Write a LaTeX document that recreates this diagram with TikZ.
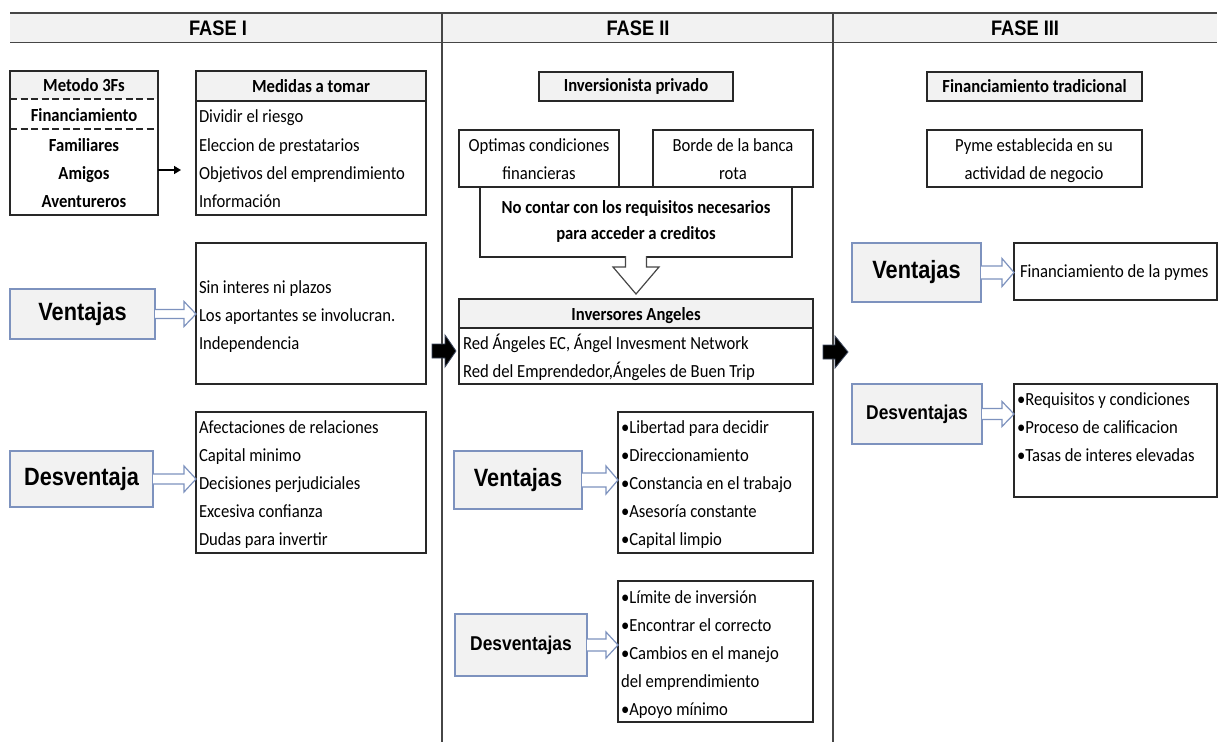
\documentclass[tikz,border=0pt]{standalone}
\usepackage{fontspec}
\setmainfont{Carlito}[FakeStretch=0.9]
\newfontfamily\arialf{Liberation Sans}[FakeStretch=0.87]
\usetikzlibrary{arrows.meta,calc}
\definecolor{lgrey}{RGB}{242,242,242}
\definecolor{lblue}{RGB}{125,146,190}
\definecolor{dline}{RGB}{40,40,40}
\definecolor{divc}{RGB}{70,70,70}
\tikzset{
  box/.style={draw=dline, line width=1.2pt, fill=white, inner sep=0pt, outer sep=0pt, anchor=north west},
  obox/.style={box, fill=none},
  hbox/.style={box, fill=lgrey, font=\bfseries\fontsize{18.5}{28}\selectfont},
  lbl/.style={draw=lblue, line width=1.4pt, fill=lgrey, inner sep=0pt, outer sep=0pt, anchor=north west, font=\arialf\bfseries\fontsize{25}{30}\selectfont},
  lbls/.style={lbl, font=\arialf\bfseries\fontsize{20}{24}\selectfont},
  txt/.style={inner sep=0pt, outer sep=0pt, font=\fontsize{18.5}{28}\selectfont, anchor=base west},
  ctxt/.style={txt, anchor=base},
  btxt/.style={txt, font=\bfseries\fontsize{18.5}{28}\selectfont, anchor=base},
  phase/.style={font=\arialf\bfseries\fontsize{21}{25}\selectfont, inner sep=0pt},
  harrow/.style={draw=lblue, line width=1.2pt, fill=white, line join=miter},
  sep/.style={draw=dline, line width=1.2pt},
  dsep/.style={draw=dline, line width=1.6pt, dash pattern=on 7pt off 3.5pt},
  divline/.style={draw=divc, line width=1.5pt},
  blk/.style={fill=black, draw=lblue!50!black, line width=0.8pt, line join=miter},
}
\newcommand\harr[4]{%
  \draw[harrow] let \p1=(#1.east), \p2=(#2.west) in
    (\x1,\y1+#3pt) -- (\x2-12pt,\y1+#3pt) -- (\x2-12pt,\y1+#4pt) -- (\x2,\y1)
    -- (\x2-12pt,\y1-#4pt) -- (\x2-12pt,\y1-#3pt) -- (\x1,\y1-#3pt);
}
\begin{document}
\begin{tikzpicture}[x=1pt,y=-1pt]
\useasboundingbox (0,0) rectangle (1225,742);
% phase header band
\fill[lgrey] (10,13) rectangle (1217,42);
\draw[divline] (10,13) -- (1217,13);
\draw[divline] (10,42.5) -- (1217,42.5);
\draw[divline] (442,13) -- (442,742);
\draw[divline] (833,13) -- (833,742);
\node[phase] (ph1) at (218,28) {FASE I};
\node[phase] (ph2) at (638,28) {FASE II};
\node[phase] (ph3) at (1025,28) {FASE III};

% ---------------- FASE I ----------------
\fill[lgrey] (10,71) rectangle (158,99);
\node[obox, minimum width=148pt, minimum height=144pt] (m3f) at (10,71) {};
\draw[dsep] (m3f.west |- 0,99) -- (m3f.east |- 0,99);
\draw[dsep] (m3f.west |- 0,129) -- (m3f.east |- 0,129);
\node[btxt] (a1) at (84,91) {Metodo 3Fs};
\node[btxt] (a2) at (84,121) {Financiamiento};
\node[btxt] (a3) at (84,151) {Familiares};
\node[btxt] (a4) at (84,179) {Amigos};
\node[btxt] (a5) at (84,207) {Aventureros};

\fill[lgrey] (196,71) rectangle (426,101);
\node[obox, minimum width=230pt, minimum height=144pt] (med) at (196,71) {};
\draw[sep] (med.west |- 0,101) -- (med.east |- 0,101);
\node[btxt] (b0) at (311,92) {Medidas a tomar};
\node[txt] (b1) at (199,122) {Dividir el riesgo};
\node[txt] (b2) at (199,151) {Eleccion de prestatarios};
\node[txt] (b3) at (199,179) {Objetivos del emprendimiento};
\node[txt] (b4) at (199,207) {Información};
\draw[line width=1.6pt, -{Triangle[length=7pt,width=8pt]}] ([yshift=-27pt]m3f.east) -- ([yshift=-27pt,xshift=-15pt]med.west);

\node[box, minimum width=230pt, minimum height=141pt] (v1c) at (196,243) {};
\node[txt] (c1) at (199,293) {Sin interes ni plazos};
\node[txt] (c2) at (199,321) {Los aportantes se involucran.};
\node[txt] (c3) at (199,349) {Independencia};
\node[lbl, minimum width=145pt, minimum height=50pt] (v1) at (10,289) {Ventajas};
\harr{v1}{v1c}{4.5}{12.5}

\node[box, minimum width=230pt, minimum height=141pt] (d1c) at (196,412) {};
\node[txt] (e1) at (199,433) {Afectaciones de relaciones};
\node[txt] (e2) at (199,461) {Capital minimo};
\node[txt] (e3) at (199,489) {Decisiones perjudiciales};
\node[txt] (e4) at (199,517) {Excesiva confianza};
\node[txt] (e5) at (199,545) {Dudas para invertir};
\node[lbl, minimum width=143pt, minimum height=56pt] (d1) at (10,451) {Desventaja};
\harr{d1}{d1c}{5}{13}

% ---------------- FASE II ----------------
\node[hbox, minimum width=194pt, minimum height=29pt] (ip) at (539,72) {Inversionista privado};
\node[box, minimum width=160pt, minimum height=57pt] (opt) at (459,130) {};
\node[ctxt] (f1) at (539,151) {Optimas condiciones};
\node[ctxt] (f2) at (539,179) {financieras};
\node[box, minimum width=160pt, minimum height=57pt] (bor) at (653,130) {};
\node[ctxt] (g1) at (733,151) {Borde de la banca};
\node[ctxt] (g2) at (733,179) {rota};
\node[box, minimum width=312pt, minimum height=70pt] (noc) at (480,187) {};
\node[btxt] (h1) at (636,213) {No contar con los requisitos necesarios};
\node[btxt] (h2) at (636,239) {para acceder a creditos};

\fill[lgrey] (459,299) rectangle (813,328);
\node[obox, minimum width=354pt, minimum height=85pt] (inv) at (459,299) {};
\draw[sep] (inv.west |- 0,328) -- (inv.east |- 0,328);
\node[btxt] (i0) at (636,320) {Inversores Angeles};
\node[txt] (i1) at (463,349) {Red Ángeles EC, Ángel Invesment Network};
\node[txt] (i2) at (463,377) {Red del Emprendedor,Ángeles de Buen Trip};

\draw[draw=divc, line width=1.2pt, fill=white, line join=miter] let \p1=(noc.south), \p2=(inv.north) in
  (\x1-10.5pt,\y1+1pt) -- (\x1-10.5pt,\y1-10pt) -- (\x1-23pt,\y1-10pt) -- (\x1,\y2+5pt)
  -- (\x1+23pt,\y1-10pt) -- (\x1+10.5pt,\y1-10pt) -- (\x1+10.5pt,\y1+1pt);

\node[box, minimum width=195pt, minimum height=141pt] (v2c) at (618,412) {};
\node[txt] (j1) at (621,433) {•Libertad para decidir};
\node[txt] (j2) at (621,461) {•Direccionamiento};
\node[txt] (j3) at (621,489) {•Constancia en el trabajo};
\node[txt] (j4) at (621,517) {•Asesoría constante};
\node[txt] (j5) at (621,545) {•Capital limpio};
\node[lbl, minimum width=128pt, minimum height=58pt] (v2) at (454,451) {Ventajas};
\harr{v2}{v2c}{7}{14}

\node[box, minimum width=195pt, minimum height=141pt] (d2c) at (618,581) {};
\node[txt] (k1) at (621,603) {•Límite de inversión};
\node[txt] (k2) at (621,631) {•Encontrar el correcto};
\node[txt] (k3) at (621,659) {•Cambios en el manejo};
\node[txt] (k4) at (621,687) {del emprendimiento};
\node[txt] (k5) at (621,715) {•Apoyo mínimo};
\node[lbls, minimum width=132pt, minimum height=62pt] (d2) at (455,614) {Desventajas};
\harr{d2}{d2c}{6}{13}

% ---------------- FASE III ----------------
\node[hbox, minimum width=215pt, minimum height=29pt] (ft) at (927,72) {Financiamiento tradicional};
\node[box, minimum width=215pt, minimum height=57pt] (pym) at (927,130) {};
\node[ctxt] (l1) at (1034,151) {Pyme establecida en su};
\node[ctxt] (l2) at (1034,179) {actividad de negocio};

\node[box, minimum width=203pt, minimum height=57pt] (v3c) at (1014,243) {};
\node[txt] (m1) at (1020,277) {Financiamiento de la pymes};
\node[lbl, minimum width=129pt, minimum height=59pt] (v3) at (852,243) {Ventajas};
\harr{v3}{v3c}{6.5}{14}

\node[box, minimum width=203pt, minimum height=113pt] (d3c) at (1014,384) {};
\node[txt] (n1) at (1017,405) {•Requisitos y condiciones};
\node[txt] (n2) at (1017,433) {•Proceso de calificacion};
\node[txt] (n3) at (1017,461) {•Tasas de interes elevadas};
\node[lbls, minimum width=130pt, minimum height=60pt] (d3) at (852,384) {Desventajas};
\harr{d3}{d3c}{5.5}{12.5}

% black phase arrows
\draw[blk] (432,344) -- (445,344) -- (445,335) -- (456,351) -- (445,367) -- (445,358) -- (432,358) -- cycle;
\draw[blk] (823,345) -- (835,345) -- (835,336) -- (848,352) -- (835,368) -- (835,359) -- (823,359) -- cycle;
\end{tikzpicture}
\end{document}
